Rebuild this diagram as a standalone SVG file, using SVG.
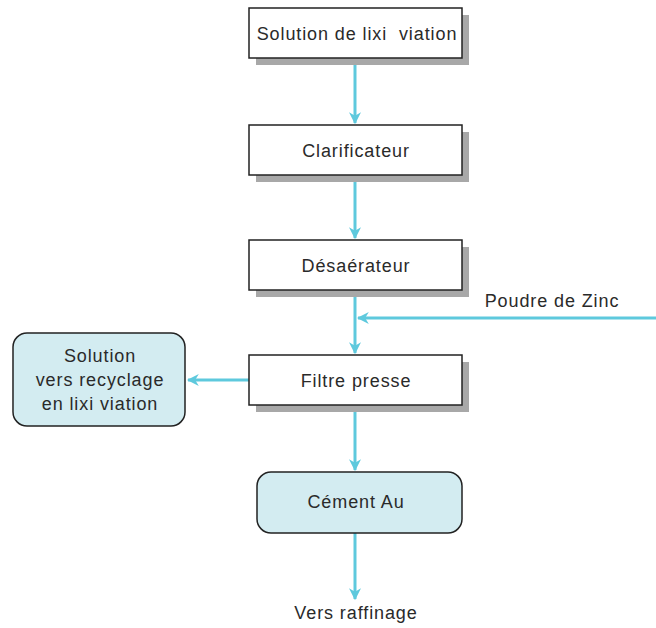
<svg xmlns="http://www.w3.org/2000/svg" width="656" height="628" viewBox="0 0 656 628">
<defs>
<style>
.shadow{fill:#a8a8a8}
.box{fill:#ffffff;stroke:#222;stroke-width:1.5}
.rbox{fill:#d3ecf1;stroke:#222;stroke-width:1.5}
text{font-family:"Liberation Sans",Arial,sans-serif;font-size:18px;letter-spacing:0.9px;fill:#2a2a2a;text-anchor:middle}
.conn{stroke:#5ec9dd;stroke-width:3;fill:none}
</style>
<marker id="ah" viewBox="0 0 10 10" refX="9" refY="5" markerWidth="4" markerHeight="4" orient="auto" markerUnits="strokeWidth">
<path d="M0,0 L10,5 L0,10 L3,5 z" fill="#5ec9dd"/>
</marker>
</defs>
<rect width="656" height="628" fill="#ffffff"/>
<g id="connectors">
<line class="conn" x1="355" y1="58" x2="355" y2="123" marker-end="url(#ah)"/>
<line class="conn" x1="355" y1="175" x2="355" y2="238" marker-end="url(#ah)"/>
<line class="conn" x1="355" y1="290" x2="355" y2="353" marker-end="url(#ah)"/>
<line class="conn" x1="656" y1="318" x2="358" y2="318" marker-end="url(#ah)"/>
<line class="conn" x1="249" y1="380" x2="188" y2="380" marker-end="url(#ah)"/>
<line class="conn" x1="355" y1="405" x2="355" y2="470" marker-end="url(#ah)"/>
<line class="conn" x1="355" y1="533" x2="355" y2="599" marker-end="url(#ah)"/>
</g>
<g id="n1">
<rect class="shadow" x="256" y="15" width="213" height="50"/>
<rect class="box" x="249" y="8" width="213" height="50"/>
<text x="357" y="40">Solution de lixi&#160; viation</text>
</g>
<g id="n2">
<rect class="shadow" x="256" y="132" width="213" height="50"/>
<rect class="box" x="249" y="125" width="213" height="50"/>
<text x="356" y="157">Clarificateur</text>
</g>
<g id="n3">
<rect class="shadow" x="256" y="247" width="213" height="50"/>
<rect class="box" x="249" y="240" width="213" height="50"/>
<text x="356" y="272">Désaérateur</text>
</g>
<g id="n4">
<rect class="shadow" x="256" y="362" width="213" height="50"/>
<rect class="box" x="249" y="355" width="213" height="50"/>
<text x="356" y="387">Filtre presse</text>
</g>
<g id="n5">
<rect class="rbox" x="13" y="333" width="172" height="93" rx="14"/>
<text x="100" y="362">Solution</text>
<text x="100" y="386">vers recyclage</text>
<text x="100" y="410">en lixi viation</text>
</g>
<g id="n6">
<rect class="rbox" x="257" y="472" width="205" height="61" rx="14"/>
<text x="356" y="508">Cément Au</text>
</g>
<g id="labels">
<text x="552" y="307">Poudre de Zinc</text>
<text x="356" y="619">Vers raffinage</text>
</g>
</svg>
